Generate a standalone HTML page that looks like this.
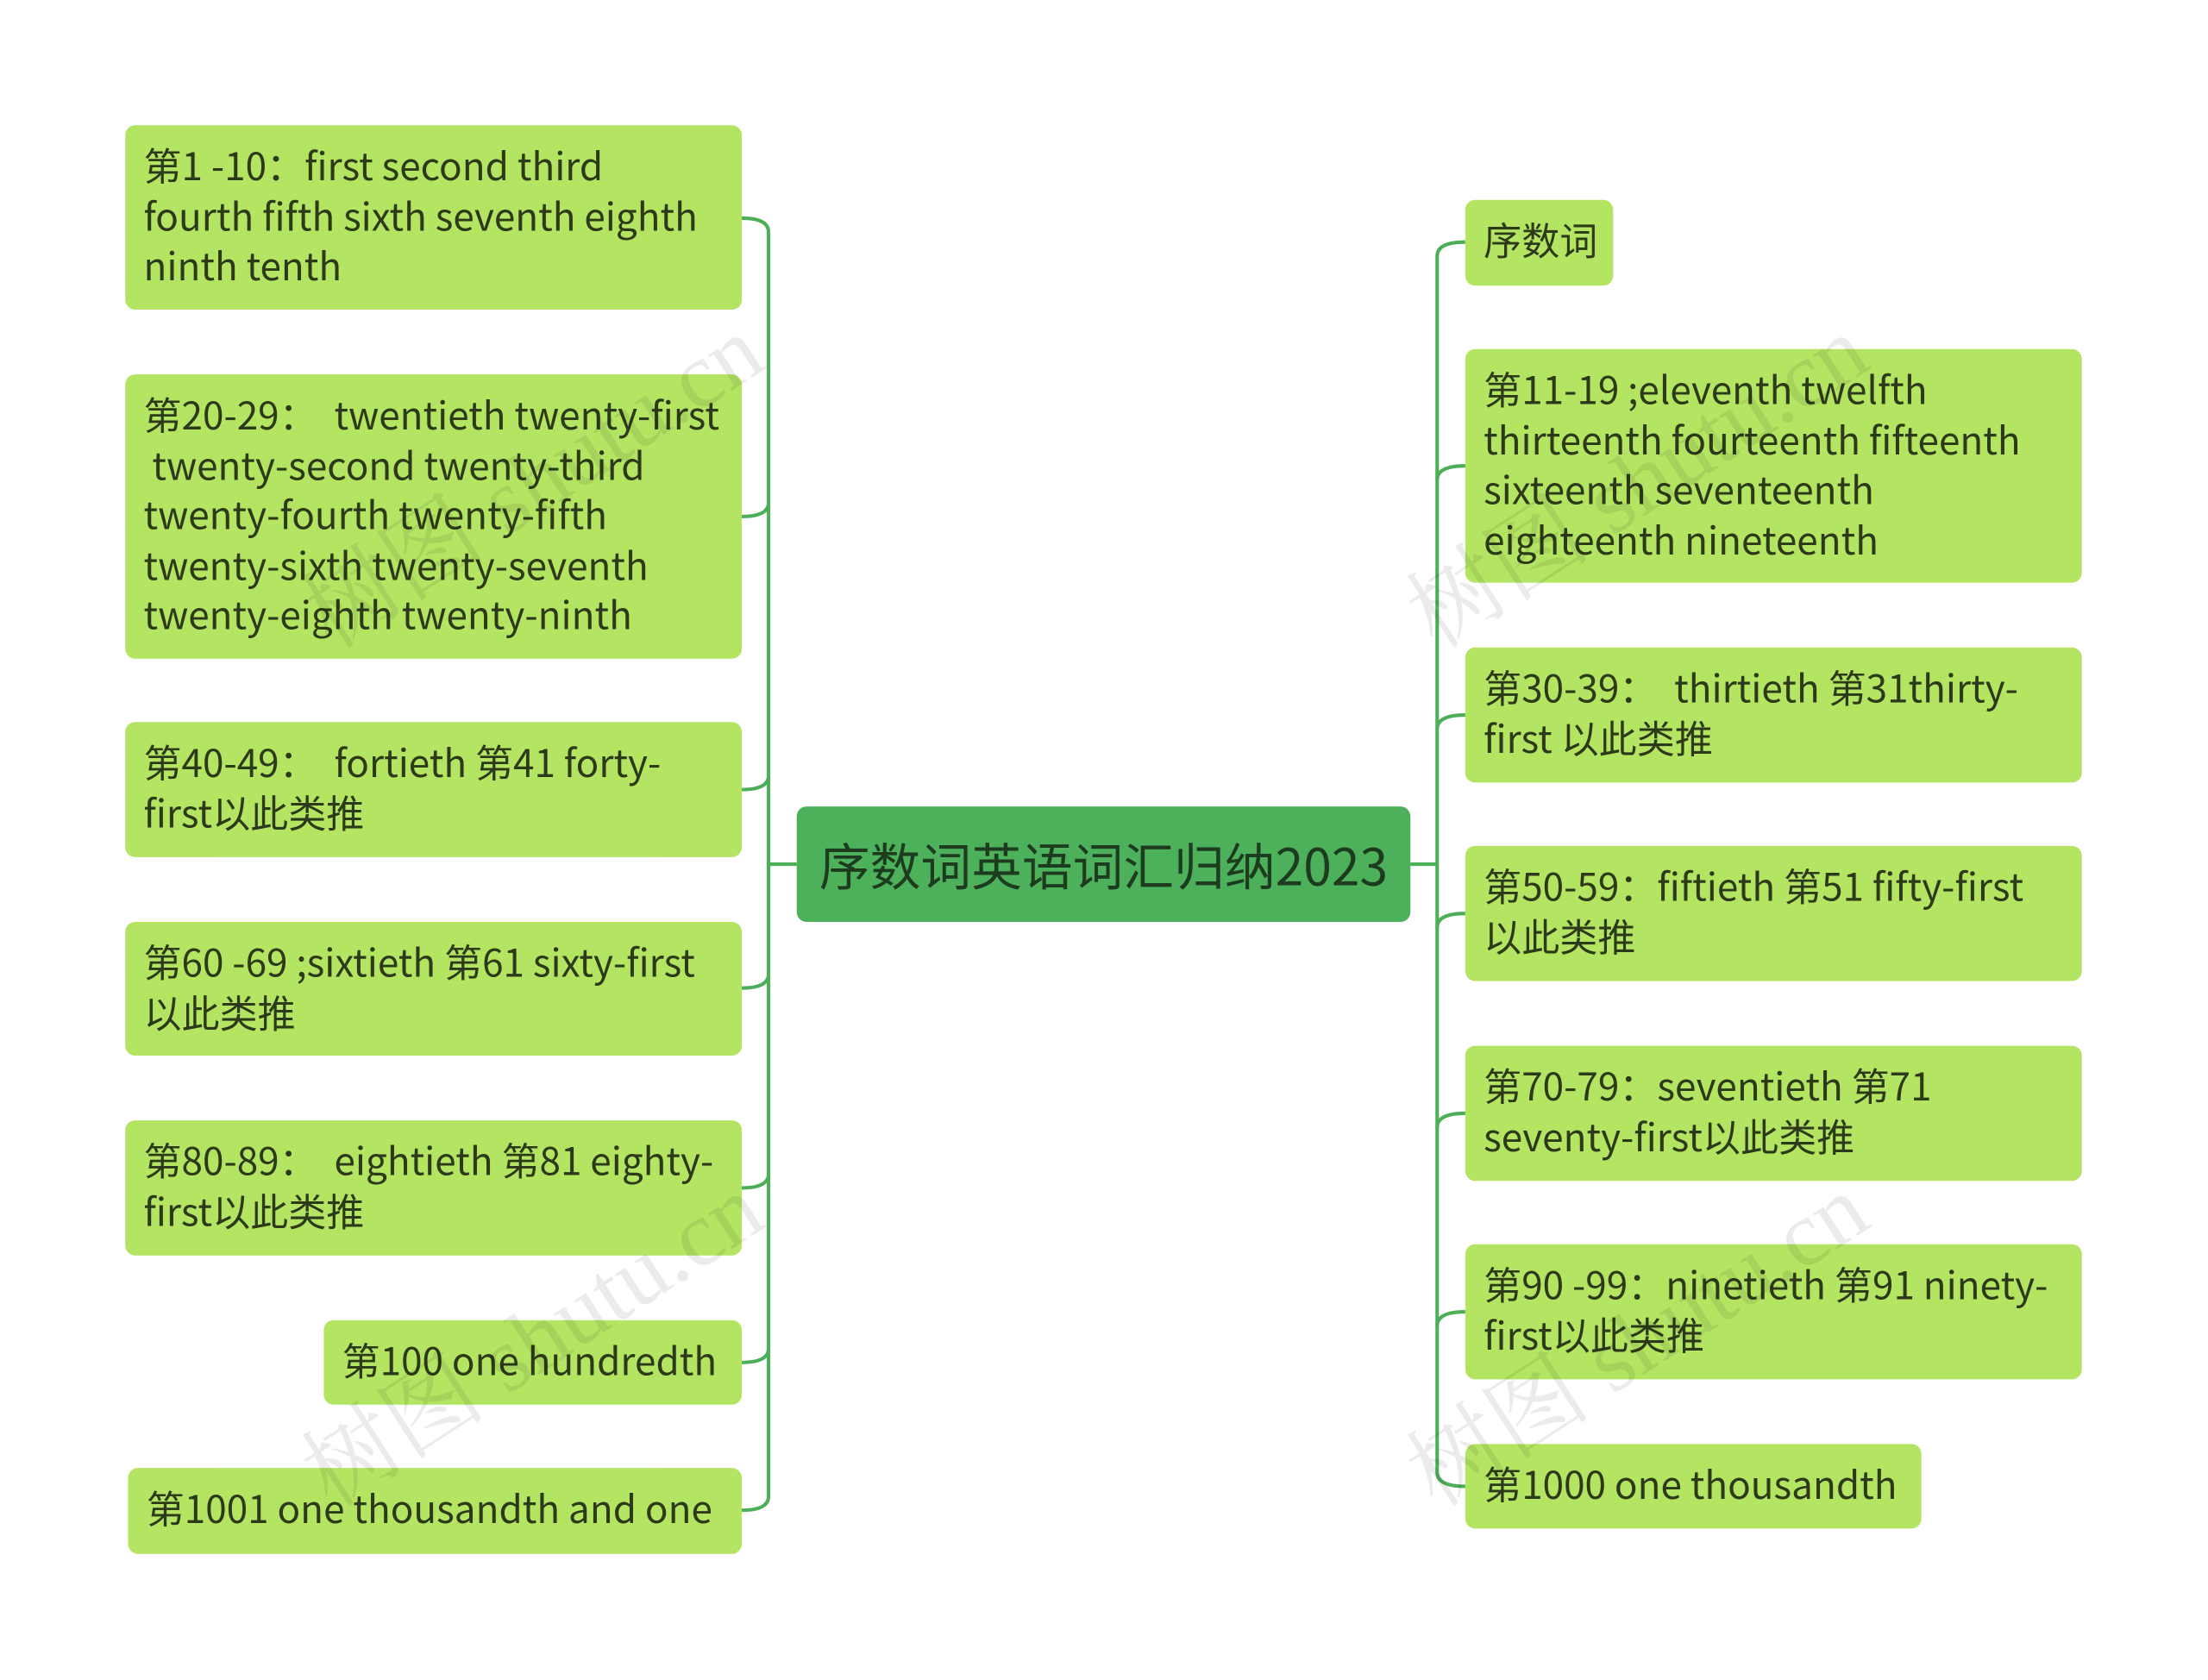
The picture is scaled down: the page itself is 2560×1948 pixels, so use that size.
<!DOCTYPE html>
<html><head><meta charset="utf-8"><style>
html,body{margin:0;padding:0;background:#fff;width:2560px;height:1948px;overflow:hidden}
#w{position:absolute;left:0;top:0;width:1561px;height:1188px;transform:scale(1.632);transform-origin:0 0;font-family:"Liberation Sans","Noto Sans CJK SC",sans-serif}
.n{position:absolute;background:#b3e462;border-radius:7px;box-sizing:border-box;padding:10px 13px;font-size:27px;line-height:35.5px;color:#2d3a1a;white-space:nowrap;font-family:"Noto Sans CJK SC","Liberation Sans",sans-serif}
.c{position:absolute;left:566px;top:573px;width:436px;height:82px;background:#4db05a;border-radius:7px;font-size:36px;line-height:82px;text-align:center;color:#1d3b1f;font-family:"Noto Sans CJK SC",sans-serif}
svg{position:absolute;left:0;top:0}
.wm{position:absolute;font-size:66px;color:rgba(0,0,0,0.08);transform:rotate(-33deg);font-family:"Liberation Serif","Noto Serif CJK SC",serif;white-space:nowrap}
</style></head><body><div id="w">
<svg width="1561" height="1188" fill="none" stroke="#4caf58" stroke-width="2.5">
<path d="M546 614 H566"/>
<path d="M527 155 q19 0 19 10 V1063 q0 10 -19 10"/>
<path d="M546 357 q0 10 -19 10"/>
<path d="M546 551 q0 10 -19 10"/>
<path d="M546 692 q0 10 -19 10"/>
<path d="M546 834 q0 10 -19 10"/>
<path d="M546 958 q0 10 -19 10"/>
<path d="M1002 614 H1021"/>
<path d="M1041 172 q-20 0 -20 10 V1046 q0 10 20 10"/>
<path d="M1021 341 q0 -10 20 -10"/>
<path d="M1021 518 q0 -10 20 -10"/>
<path d="M1021 659 q0 -10 20 -10"/>
<path d="M1021 801 q0 -10 20 -10"/>
<path d="M1021 942 q0 -10 20 -10"/>
</svg>
<div class="n" style="left:89px;top:89px;width:438px;height:131px">第1 -10：first second third<br>fourth fifth sixth seventh eighth<br>ninth tenth</div>
<div class="n" style="left:89px;top:266px;width:438px;height:202px">第20-29：&nbsp; twentieth twenty-first<br>&nbsp;twenty-second twenty-third<br>twenty-fourth twenty-fifth<br>twenty-sixth twenty-seventh<br>twenty-eighth twenty-ninth</div>
<div class="n" style="left:89px;top:513px;width:438px;height:96px">第40-49：&nbsp; fortieth 第41 forty-<br>first以此类推</div>
<div class="n" style="left:89px;top:655px;width:438px;height:95px">第60 -69 ;sixtieth 第61 sixty-first<br>以此类推</div>
<div class="n" style="left:89px;top:796px;width:438px;height:96px">第80-89：&nbsp; eightieth 第81 eighty-<br>first以此类推</div>
<div class="n" style="left:230px;top:938px;width:297px;height:60px">第100 one hundredth</div>
<div class="n" style="left:91px;top:1043px;width:436px;height:61px">第1001 one thousandth and one</div>
<div class="c">序数词英语词汇归纳2023</div>
<div class="n" style="left:1041px;top:142px;width:105px;height:61px">序数词</div>
<div class="n" style="left:1041px;top:248px;width:438px;height:166px">第11-19 ;eleventh twelfth<br>thirteenth fourteenth fifteenth<br>sixteenth seventeenth<br>eighteenth nineteenth</div>
<div class="n" style="left:1041px;top:460px;width:438px;height:96px">第30-39：&nbsp; thirtieth 第31thirty-<br>first 以此类推</div>
<div class="n" style="left:1041px;top:601px;width:438px;height:96px">第50-59：fiftieth 第51 fifty-first<br>以此类推</div>
<div class="n" style="left:1041px;top:743px;width:438px;height:96px">第70-79：seventieth 第71<br>seventy-first以此类推</div>
<div class="n" style="left:1041px;top:884px;width:438px;height:96px">第90 -99：ninetieth 第91 ninety-<br>first以此类推</div>
<div class="n" style="left:1041px;top:1026px;width:324px;height:60px">第1000 one thousandth</div>
<div class="wm" style="left:190px;top:290px">树图 shutu.cn</div>
<div class="wm" style="left:190px;top:900px">树图 shutu.cn</div>
<div class="wm" style="left:975px;top:290px">树图 shutu.cn</div>
<div class="wm" style="left:975px;top:900px">树图 shutu.cn</div>
</div></body></html>
